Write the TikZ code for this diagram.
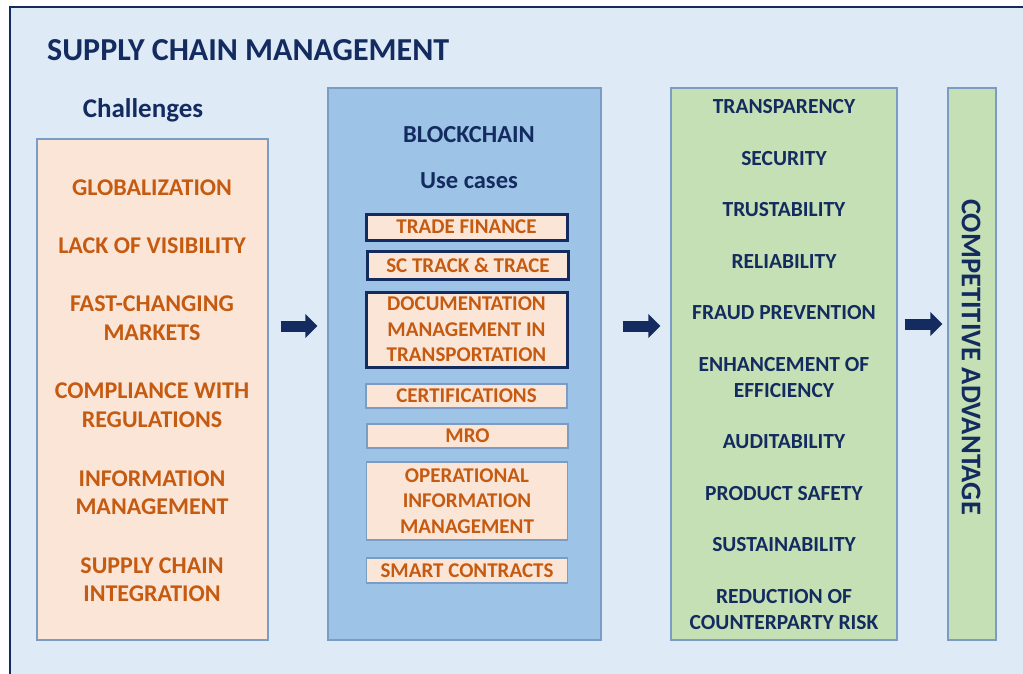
\documentclass[tikz,border=0pt]{standalone}
\usepackage{fontspec}
\setmainfont{Carlito}
\usetikzlibrary{arrows.meta}

\definecolor{sky}{HTML}{DEEBF7}
\definecolor{navy}{HTML}{142B60}
\definecolor{rust}{HTML}{C55A11}
\definecolor{peach}{HTML}{FBE5D6}
\definecolor{chainblue}{HTML}{9DC3E6}
\definecolor{leaf}{HTML}{C5E0B4}
\definecolor{edgeblue}{HTML}{7B9CC4}

\begin{document}
\begin{tikzpicture}[x=1pt,y=-1pt,
	panel/.style={draw=edgeblue,line width=1.2pt,inner sep=0pt},
	usecase/.style={draw=edgeblue,line width=1.2pt,fill=peach,minimum width=201pt,inner sep=0pt,align=center,text=rust,font=\fontsize{21}{25.5}\selectfont\bfseries},
	keycase/.style={usecase,draw=navy,line width=3pt},
	challenge/.style={text=rust,align=center,font=\fontsize{24}{28.5}\selectfont\bfseries},
	benefit/.style={text=navy,align=center,font=\fontsize{21.5}{26}\selectfont\bfseries},
	flow/.style={draw=navy,line width=11pt,-{Triangle[length=12pt,width=23pt]}}]
	\useasboundingbox (0,0) rectangle (1023,673);

	% background
	\fill[sky] (10,7) rectangle (1040,690);
	\draw[navy,line width=1.5pt] (10,690) -- (10,7) -- (1040,7);

	\node (title) [navy,font=\fontsize{32}{36}\selectfont\bfseries,anchor=west,inner sep=0pt] at (47,50) {SUPPLY CHAIN MANAGEMENT};
	\node (chalhead) [navy,font=\fontsize{27}{30}\selectfont\bfseries] at (143,110) {Challenges};

	% panels
	\node (chal) [panel,fill=peach,minimum width=231pt,minimum height=501pt] at (152.5,389.5) {};
	\node (bc) [panel,fill=chainblue,minimum width=273pt,minimum height=552pt] at (464.5,364) {};
	\node (gain) [panel,fill=leaf,minimum width=226pt,minimum height=552pt] at (784,364) {};
	\node (adv) [panel,fill=leaf,minimum width=48pt,minimum height=552pt] at (972,364) {};

	% challenges
	\begin{scope}[every node/.style={challenge}]
		\node (c1) at (152,188) {GLOBALIZATION};
		\node (c2) at (152,246) {LACK OF VISIBILITY};
		\node (c3) at (152,318) {FAST-CHANGING\\MARKETS};
		\node (c4) at (152,405) {COMPLIANCE WITH\\REGULATIONS};
		\node (c5) at (152,492.5) {INFORMATION\\MANAGEMENT};
		\node (c6) at (152,579.5) {SUPPLY CHAIN\\INTEGRATION};
	\end{scope}

	% blockchain use cases
	\node (bchead) [navy,font=\fontsize{24.5}{28}\selectfont\bfseries] at (469,135) {BLOCKCHAIN};
	\node (uchead) [navy,font=\fontsize{24.5}{28}\selectfont\bfseries] at (469,181) {Use cases};
	\node (u1) [keycase,minimum height=26pt] at (466.5,227) {TRADE FINANCE};
	\node (u2) [keycase,minimum height=28pt] at (468,265) {SC TRACK \& TRACE};
	\node (u3) [keycase,minimum height=75pt] at (466.5,329.5) {DOCUMENTATION\\MANAGEMENT IN\\TRANSPORTATION};
	\node (u4) [usecase,minimum height=24pt] at (466.5,396) {CERTIFICATIONS};
	\node (u5) [usecase,minimum height=24pt] at (467.5,436) {MRO};
	\node (u6) [usecase,minimum height=78pt] at (467,501) {OPERATIONAL\\INFORMATION\\MANAGEMENT};
	\node (u7) [usecase,minimum height=25pt] at (467,570.5) {SMART CONTRACTS};

	% benefits
	\begin{scope}[every node/.style={benefit}]
		\node (b1) at (784,107) {TRANSPARENCY};
		\node (b2) at (784,159) {SECURITY};
		\node (b3) at (784,210) {TRUSTABILITY};
		\node (b4) at (784,262) {RELIABILITY};
		\node (b5) at (784,313) {FRAUD PREVENTION};
		\node (b6) at (784,378) {ENHANCEMENT OF\\EFFICIENCY};
		\node (b7) at (784,442) {AUDITABILITY};
		\node (b8) at (784,494) {PRODUCT SAFETY};
		\node (b9) at (784,545) {SUSTAINABILITY};
		\node (b10) at (784,610) {REDUCTION OF\\COUNTERPARTY RISK};
	\end{scope}

	\node (advtext) [navy,rotate=-90,font=\fontsize{28.5}{32}\selectfont\bfseries] at (971,357) {COMPETITIVE ADVANTAGE};

	% arrows
	\coordinate (row) at (0,326);
	\coordinate (row2) at (0,324);
	\draw[flow,shorten <=12pt,shorten >=10pt] (chal.east |- row) -- (bc.west |- row);
	\draw[flow,shorten <=21pt,shorten >=10pt] (bc.east |- row) -- (gain.west |- row);
	\draw[flow,shorten <=7pt,shorten >=5pt] (gain.east |- row2) -- (adv.west |- row2);
\end{tikzpicture}
\end{document}
